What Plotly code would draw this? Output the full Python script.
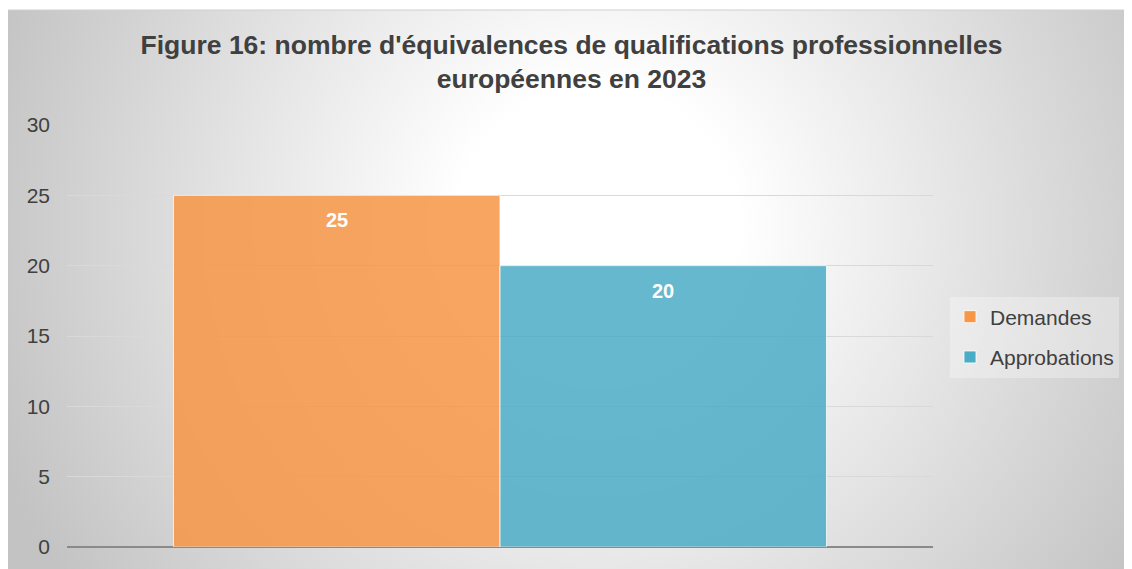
import base64
import plotly.graph_objects as go

# ---- data ----
categories = ["2023"]
series_names = ["Demandes", "Approbations"]
series_values = [[25], [20]]
series_colors = ["#F79646", "#4BACC6"]
y_ticks = [0, 5, 10, 15, 20, 25, 30]
title_text = "Figure 16: nombre d'équivalences de qualifications professionnelles<br>européennes en 2023"

W, H = 1124, 561  # page body has an 8px margin
BARGAP = 0.246
FONT = "Liberation Sans, Arial, sans-serif"
TXT = "#404040"

# background: radial gradient panel (decoration only)
svg = f"""<svg xmlns='http://www.w3.org/2000/svg' width='{W}' height='{H}' viewBox='0 0 {W} {H}'>
<defs><radialGradient id='g' gradientUnits='userSpaceOnUse' cx='590' cy='220' r='640'>
<stop offset='0' stop-color='#ffffff'/><stop offset='0.22' stop-color='#ffffff'/>
<stop offset='1' stop-color='#c3c3c3'/></radialGradient></defs>
<rect x='-1' y='2' width='{W+2}' height='{H}' fill='url(#g)' stroke='#d0d0d0' stroke-width='1'/>
</svg>"""
svg_uri = "data:image/svg+xml;base64," + base64.b64encode(svg.encode()).decode()

fig = go.Figure()
for name, vals, col in zip(series_names, series_values, series_colors):
    fig.add_trace(go.Bar(
        x=categories, y=vals, name=name, legendgroup=name,
        marker=dict(color=col, opacity=0.85, line=dict(color="rgba(255,255,255,0.8)", width=1)),
        hoverinfo="skip",
    ))

# data labels inside near the top of each bar
n = len(series_names)
bw = (1 - BARGAP) / n
for i, (name, vals) in enumerate(zip(series_names, series_values)):
    for j, v in enumerate(vals):
        fig.add_annotation(
            x=j - (1 - BARGAP) / 2 + bw * (i + 0.5), y=v, xref="x", yref="y",
            text=f"<b>{v}</b>", showarrow=False, yshift=-25,
            font=dict(family=FONT, size=20, color="white"),
        )

fig.update_layout(
    width=W, height=H,
    margin=dict(l=0, r=0, t=0, b=0),
    paper_bgcolor="white", plot_bgcolor="rgba(0,0,0,0)",
    barmode="group", bargap=BARGAP, bargroupgap=0,
    images=[dict(source=svg_uri, xref="paper", yref="paper", x=0, y=1,
                 sizex=1, sizey=1, sizing="stretch", layer="below", xanchor="left", yanchor="top")],
    title=dict(text=f"<b>{title_text}</b>", x=563.5 / W, xanchor="center", y=1 - 46 / H, yanchor="top",
               font=dict(family=FONT, size=26.5, color=TXT)),
    xaxis=dict(domain=[59 / W, 925 / W], showticklabels=False, showgrid=False, zeroline=False,
               showline=False, ticks="", automargin=False),
    yaxis=dict(domain=[22 / H, 1 - 117 / H], range=[0, 30], tickvals=y_ticks,
               showgrid=True, gridcolor="#D9D9D9", gridwidth=1,
               zeroline=True, zerolinecolor="#8A8A8A", zerolinewidth=2,
               showline=False, ticks="", ticklabelstandoff=16, automargin=False,
               tickfont=dict(family=FONT, size=21, color=TXT)),
    showlegend=True,
    legend=dict(x=942 / W, xanchor="left", y=1 - 329 / H, yanchor="middle",
                bgcolor="rgba(255,255,255,0.3)", borderwidth=0, tracegroupgap=10,
                font=dict(family=FONT, size=21, color=TXT), traceorder="grouped"),
)

fig.write_html("out.html")
